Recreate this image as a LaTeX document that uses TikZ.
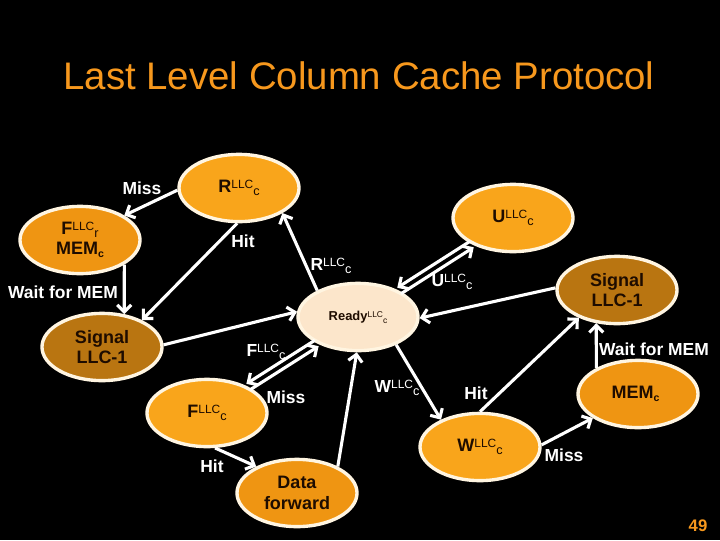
\documentclass[tikz,border=0pt]{standalone}
\usepackage{fontspec}
\setmainfont{Liberation Sans}
\usetikzlibrary{shapes.geometric,arrows.meta}
\definecolor{titleorange}{HTML}{F7981D}
\definecolor{lightorange}{HTML}{F9A51B}
\definecolor{midorange}{HTML}{EF9512}
\definecolor{signalbrown}{HTML}{B97511}
\definecolor{readycream}{HTML}{FCE6CB}
\definecolor{rimcream}{HTML}{FFF5E1}
\definecolor{inkdark}{HTML}{1E0C00}
% state name with LLC and a lowered index
\newcommand\llc[2]{#1\raisebox{2.6pt}{\fontsize{8.5}{9}\selectfont\mdseries LLC}\raisebox{-2.3pt}{\fontsize{9}{9}\selectfont\mdseries #2}}
\newcommand\lowc{\raisebox{-2pt}{\fontsize{7.5}{8}\selectfont c}}
\tikzset{
  state/.style={ellipse,draw=rimcream,line width=2.4pt,minimum width=3cm,minimum height=1.68cm,
    inner sep=0pt,text=inkdark,font=\fontsize{12.8}{14.5}\selectfont\bfseries,align=center},
  lbl/.style={text=white,font=\fontsize{12.4}{14}\selectfont\bfseries,inner sep=0pt},
  arr/.style={draw=white,line width=2.2pt,-{Straight Barb[length=5pt,width=10pt]}},
}
\begin{document}
\begin{tikzpicture}[x=0.025cm,y=-0.025cm]
   \path[use as bounding box,fill=black] (0,0) rectangle (720,540);
   \node[text=titleorange,font=\fontsize{27.3}{30}\selectfont] (title) at (359,76) {Last Level Column Cache Protocol};
   % states
   \foreach \n/\x/\y/\c/\t in
     {R/239/188/lightorange/{\llc{R}{c}},
      FM/80/240/midorange/{\llc{F}{r}\\MEM\lowc},
      SL/102/347/signalbrown/{Signal\\LLC-1},
      U/513/218/lightorange/{\llc{U}{c}},
      SR/617/290/signalbrown/{Signal\\LLC-1},
      FC/207/413/lightorange/{\llc{F}{c}},
      DF/297/493/midorange/{Data\\forward},
      W/480/447/lightorange/{\llc{W}{c}},
      MEM/638/394/midorange/{MEM\lowc}
     }
     \node[state,fill=\c] (\n) at (\x,\y) {\t};
   \node[state,fill=readycream,font=\fontsize{9.2}{10}\selectfont\bfseries] (RD) at (358,317)
     {Ready\raisebox{2pt}{\fontsize{6}{6}\selectfont\mdseries LLC}\raisebox{-2pt}{\fontsize{6}{6}\selectfont\mdseries c}};
   % transitions
   \foreach \a/\b in
     {R.182/FM.29, R.-93/SL.34, FM.-29/SL.56, SL.2/RD.175, RD.147/R.-30,
      SR.178/RD.-1, FC.-77/DF.147, DF.33/RD.-92, RD.-36/W.145,
      W.90/SR.216, W.2/MEM.208, MEM.148/SR.-122}
     \draw[arr] (\a) -- (\b);
   \draw[arr,transform canvas={shift={(-1.35pt,2.1pt)}}] (U) -- (RD);
   \draw[arr,transform canvas={shift={(1.35pt,-2.1pt)}}] (RD) -- (U);
   \draw[arr,transform canvas={shift={(-1.35pt,2.1pt)}}] (RD) -- (FC);
   \draw[arr,transform canvas={shift={(1.35pt,-2.1pt)}}] (FC) -- (RD);
   % labels
   \foreach \n/\x/\y/\t in
     {m1/142/188/Miss, h1/243/241/Hit, w1/63/292/Wait for MEM,
      rl/331/266/{\llc{R}{c}}, ul/452/282/{\llc{U}{c}}, fl/266/352/{\llc{F}{c}},
      m2/286/397/Miss, h2/212/466/Hit, wl/397/388/{\llc{W}{c}},
      h3/476/393/Hit, m3/564/455/Miss, w2/654/349/Wait for MEM}
     \node[lbl] (\n) at (\x,\y) {\t};
   \node[text=titleorange,font=\fontsize{11.9}{13}\selectfont\bfseries] (page) at (698,526) {49};
\end{tikzpicture}
\end{document}
